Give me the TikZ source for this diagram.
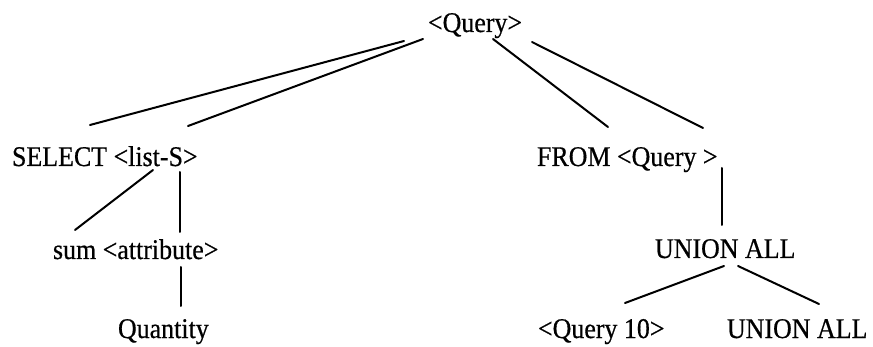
\documentclass[tikz,border=0pt]{standalone}
\usepackage{fontspec}
\setmainfont{Liberation Serif}[FakeBold=0.6]
\begin{document}
\begin{tikzpicture}[x=1pt,y=-1pt,
  lbl/.style={anchor=base west,inner sep=0pt,outer sep=0pt,xscale=0.91,
    font=\fontsize{28.5}{30}\selectfont},
  edge/.style={line width=2pt,line cap=round}]
\useasboundingbox (0,0) rectangle (873,347);

% parse-tree nodes, placed by the west end of their baselines
\node[lbl] (root) at (428,32)  {<Query>};
\node[lbl] (sel)  at (12,166)  {SELECT <list-S>};
\node[lbl] (from) at (537,166) {FROM <Query >};
\node[lbl] (sum)  at (53,259)  {sum <attribute>};
\node[lbl] (qty)  at (118,338) {Quantity};
\node[lbl] (un)   at (655,258) {UNION ALL};
\node[lbl] (q10)  at (538,338) {<Query 10>};
\node[lbl] (un2)  at (727,338) {UNION ALL};

% branches
\draw[edge] ([shift={(-24,9)}]root.base west) -- ([shift={(78,-41)}]sel.base west);
\draw[edge] ([shift={(-5,7)}]root.base west)  -- ([shift={(176,-40)}]sel.base west);
\draw[edge] ([shift={(65,7)}]root.base west)  -- ([shift={(71,-39)}]from.base west);
\draw[edge] ([shift={(104,10)}]root.base west) -- ([shift={(166,-38)}]from.base west);

\draw[edge] ([shift={(141,4)}]sel.base west) -- ([shift={(22,-29)}]sum.base west);
\draw[edge] ([shift={(168,6)}]sel.base west) -- ([shift={(127,-27)}]sum.base west);
\draw[edge] ([shift={(128,8)}]sum.base west) -- ([shift={(63,-32)}]qty.base west);

\draw[edge] ([shift={(185,2)}]from.base west) -- ([shift={(67,-33)}]un.base west);
\draw[edge] ([shift={(69,8)}]un.base west) -- ([shift={(87,-35)}]q10.base west);
\draw[edge] ([shift={(83,8)}]un.base west) -- ([shift={(92,-34)}]un2.base west);
\end{tikzpicture}
\end{document}
